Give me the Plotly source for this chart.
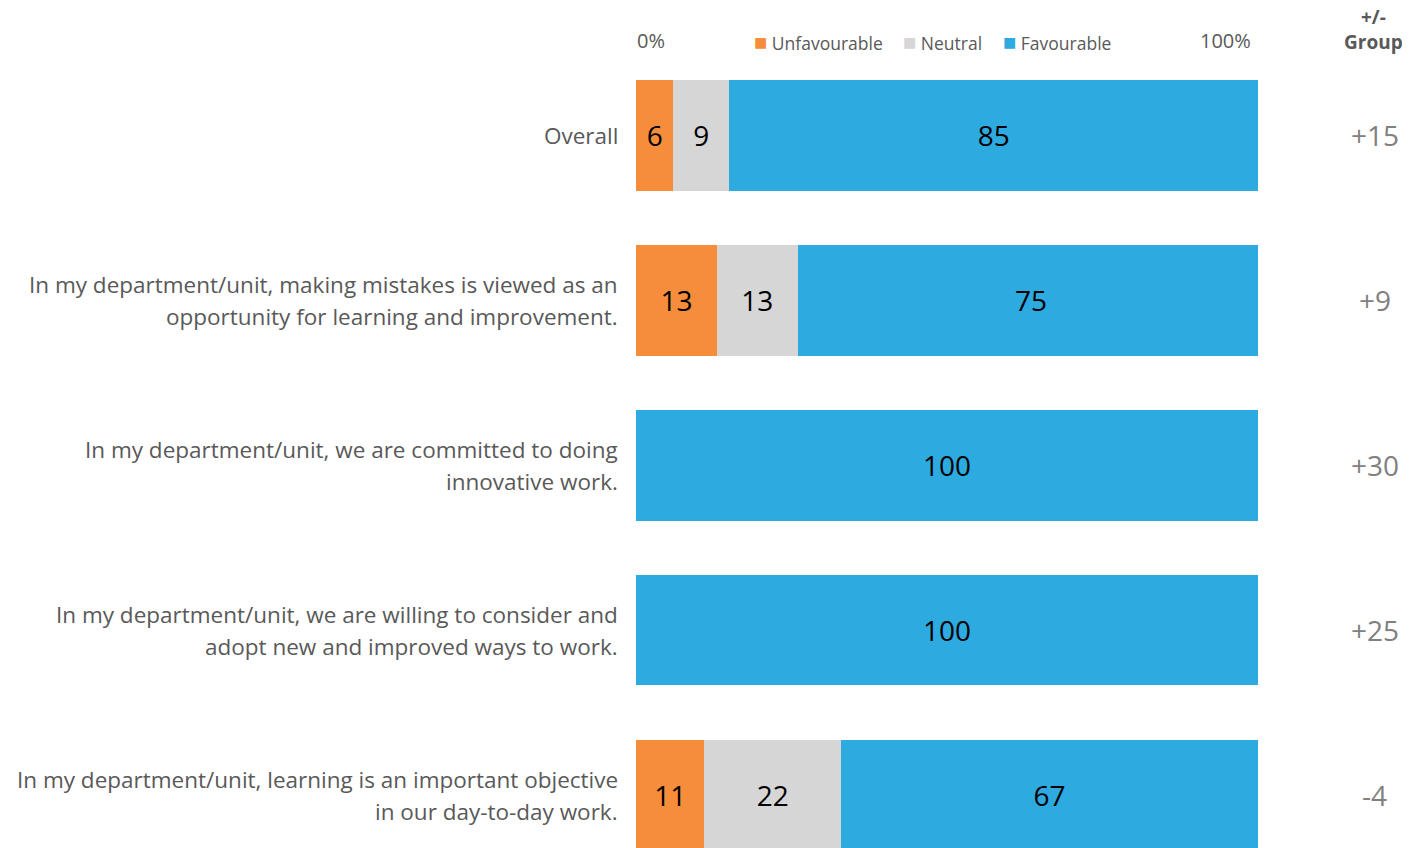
import plotly.graph_objects as go

# Survey rows, top to bottom
questions = [
    "Overall",
    "In my department/unit, making mistakes is viewed as an<br>opportunity for learning and improvement.",
    "In my department/unit, we are committed to doing<br>innovative work.",
    "In my department/unit, we are willing to consider and<br>adopt new and improved ways to work.",
    "In my department/unit, learning is an important objective<br>in our day-to-day work.",
]
unfavourable = [6, 13, 0, 0, 11]
neutral = [9, 13, 0, 0, 22]
favourable = [85, 75, 100, 100, 67]
vs_group = ["+15", "+9", "+30", "+25", "-4"]

colors = {"Unfavourable": "#F58D3B", "Neutral": "#D6D6D6", "Favourable": "#2DAAE0"}
font_family = "Open Sans, Noto Sans, sans-serif"

rows = list(range(len(questions)))

fig = go.Figure()
for name, vals in [("Unfavourable", unfavourable), ("Neutral", neutral), ("Favourable", favourable)]:
    fig.add_trace(go.Bar(
        y=rows, x=vals, name=name, orientation="h",
        marker=dict(color=colors[name], line=dict(width=0)),
        text=[str(v) if v else "" for v in vals],
        textposition="inside", insidetextanchor="middle", textangle=0,
        textfont=dict(size=28, color="black", family=font_family),
        width=0.667, showlegend=False,
    ))

# question labels on the left (one annotation per line for looser line spacing)
for i, q in enumerate(questions):
    lines = q.split("<br>")
    n = len(lines)
    for j, line in enumerate(lines):
        fig.add_annotation(x=0, xref="paper", y=i, yref="y", text=line, showarrow=False,
                           xanchor="right", yanchor="middle", xshift=-16,
                           yshift=(n - 1) * 16 - j * 32,
                           font=dict(size=22.5, color="#595959", family=font_family))
    # +/- group column
    fig.add_annotation(x=1.188, xref="paper", y=i, yref="y", text=vs_group[i], showarrow=False,
                       xanchor="center", yanchor="middle",
                       font=dict(size=28, color="#808080", family=font_family))

# header row
fig.add_annotation(x=0, xref="paper", y=1, yref="paper", yshift=13, text="0%", showarrow=False,
                   xanchor="left", yanchor="middle", xshift=-1,
                   font=dict(size=20, color="#595959", family=font_family))
fig.add_annotation(x=1, xref="paper", y=1, yref="paper", yshift=13, text="100%", showarrow=False,
                   xanchor="right", yanchor="middle", xshift=-5,
                   font=dict(size=20, color="#595959", family=font_family))
fig.add_annotation(x=1.185, xref="paper", y=1, yref="paper", yshift=24, text="<b>+/-<br>Group</b>",
                   showarrow=False, xanchor="center", yanchor="middle",
                   font=dict(size=19, color="#595959", family=font_family))

legend_x = {"Unfavourable": 0.186, "Neutral": 0.426, "Favourable": 0.587}
for name, lx in legend_x.items():
    fig.add_annotation(x=lx, xref="paper", y=1, yref="paper", yshift=12, showarrow=False,
                       xanchor="left", yanchor="middle",
                       text=f"<span style='color:{colors[name]};font-size:22px'>■</span> {name}",
                       font=dict(size=17.5, color="#595959", family=font_family))

fig.update_layout(
    barmode="stack",
    width=1410, height=848,
    margin=dict(l=628, r=160, t=45, b=0),
    plot_bgcolor="white", paper_bgcolor="white",
    xaxis=dict(range=[0, 100], visible=False, fixedrange=True),
    yaxis=dict(range=[4.367, -0.5], visible=False, fixedrange=True),
)

fig.write_html("out.html")
